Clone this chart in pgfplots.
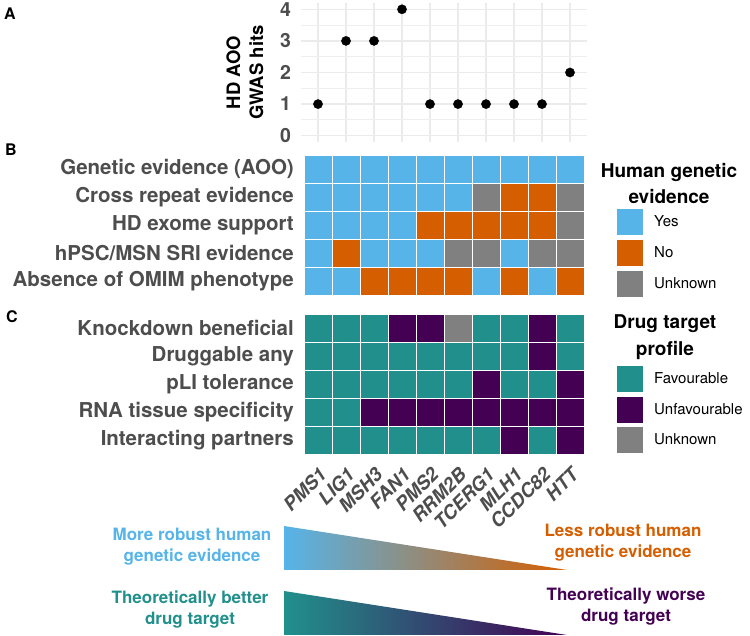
\documentclass[border=0pt]{standalone}
\usepackage{pgfplots}
\pgfplotsset{compat=1.18}
\usepackage{fontspec}
\setmainfont{TeX Gyre Heros}

\definecolor{hgyes}{HTML}{56B4E9}
\definecolor{hgno}{HTML}{D55E00}
\definecolor{unk}{HTML}{808080}
\definecolor{fav}{HTML}{21908C}
\definecolor{unfav}{HTML}{440154}
\definecolor{axtext}{HTML}{4D4D4D}
\definecolor{gridc}{HTML}{EBEBEB}

\newcommand{\fsz}[2]{\fontsize{#1}{#2}\selectfont}

\pgfplotsset{
  tile/.style={only marks, mark=square*, mark size=13bp, mark options={draw=none}},
  heat/.style={
    scale only axis, width=280bp,
    xmin=0.5, xmax=10.5, ymin=0.5, ymax=5.5, y dir=reverse,
    axis line style={draw=none}, tick style={draw=none},
    major tick length=0pt,
    xtick={1,...,10}, ytick={1,...,5},
    yticklabel style={font=\fsz{20.5bp}{24bp}\bfseries, text=axtext, inner sep=0pt},
    yticklabel shift=10bp,
    legend image code/.code={\fill[##1, draw=none] (0bp,-13bp) rectangle (26bp,13bp);},
    legend style={draw=none, fill=none, inner sep=0pt, font=\fsz{15bp}{18bp},
      nodes={inner sep=0pt}, /tikz/every odd column/.style={column sep=11bp}},
    legend cell align=left,
  },
}

\begin{document}
\begin{tikzpicture}
\path[use as bounding box] (0,0) rectangle (750bp,636bp);

% Panel A: GWAS hits
\begin{axis}[
  at={(301.2bp,494bp)}, anchor=south west,
  scale only axis, width=285.6bp, height=139bp,
  xmin=0.4, xmax=10.6, ymin=-0.2, ymax=4.2,
  axis line style={draw=none}, tick style={draw=none},
  major tick length=0pt, minor tick length=0pt,
  xtick={1,...,10}, xticklabels={},
  ytick={0,...,4}, minor ytick={0.5,1.5,2.5,3.5},
  grid=both,
  major grid style={color=gridc, line width=1.5bp},
  minor grid style={color=gridc!80!white, line width=0.8bp},
  yticklabel style={font=\fsz{19.5bp}{22bp}\bfseries, text=axtext, inner sep=0pt},
  yticklabel shift=10bp,
  /pgf/number format/assume math mode=true,
  every axis y label/.style={at={(axis description cs:-0.197,0.5)}, rotate=90,
    anchor=center, align=center, font=\fsz{18.5bp}{23bp}\bfseries},
  ylabel={HD AOO\\GWAS hits},
]
\addplot[only marks, mark=*, mark size=4.6bp, black]
  coordinates {(1,1) (2,3) (3,3) (4,4) (5,1) (6,1) (7,1) (8,1) (9,1) (10,2)};
\end{axis}

% Panel B: human genetic evidence
\begin{axis}[heat,
  at={(304bp,340.5bp)}, anchor=south west, height=140.5bp,
  xticklabels={},
  yticklabels={Genetic evidence (AOO), Cross repeat evidence, HD exome support,
    hPSC/MSN SRI evidence, Absence of OMIM phenotype},
  legend style={at={(1.1179,0.6157)}, anchor=north west, row sep=4.7bp},
]
\addplot[tile, hgyes] coordinates {
  (1,1) (2,1) (3,1) (4,1) (5,1) (6,1) (7,1) (8,1) (9,1) (10,1)
  (1,2) (2,2) (3,2) (4,2) (5,2) (6,2)
  (1,3) (2,3) (3,3) (4,3)
  (1,4) (3,4) (4,4) (5,4) (8,4)
  (1,5) (2,5) (7,5) (9,5)};
\addlegendentry{Yes}
\addplot[tile, hgno] coordinates {
  (8,2) (9,2)
  (5,3) (6,3) (7,3) (8,3) (9,3)
  (2,4)
  (3,5) (4,5) (5,5) (6,5) (8,5) (10,5)};
\addlegendentry{No}
\addplot[tile, unk] coordinates {
  (7,2) (10,2) (10,3) (6,4) (7,4) (9,4) (10,4)};
\addlegendentry{Unknown}
\end{axis}

% Panel C: drug target profile
\begin{axis}[heat,
  at={(304bp,182bp)}, anchor=south west, height=140bp,
  xticklabels={PMS1, LIG1, MSH3, FAN1, PMS2, RRM2B, TCERG1, MLH1, CCDC82, HTT},
  xticklabel style={rotate=45, anchor=north east, inner sep=0pt,
    font=\fsz{19bp}{22bp}\bfseries\itshape, text=axtext},
  xticklabel shift=12bp,
  yticklabels={Knockdown beneficial, Druggable any, pLI tolerance,
    RNA tissue specificity, Interacting partners},
  legend style={at={(1.1179,0.6286)}, anchor=north west, row sep=4.5bp},
]
\addplot[tile, fav] coordinates {
  (1,1) (2,1) (3,1) (7,1) (8,1) (10,1)
  (1,2) (2,2) (3,2) (4,2) (5,2) (6,2) (7,2) (8,2) (10,2)
  (1,3) (2,3) (3,3) (4,3) (5,3) (6,3) (8,3) (9,3)
  (1,4) (2,4)
  (1,5) (2,5) (3,5) (4,5) (5,5) (6,5) (7,5) (9,5)};
\addlegendentry{Favourable}
\addplot[tile, unfav] coordinates {
  (4,1) (5,1) (9,1)
  (9,2)
  (7,3) (10,3)
  (3,4) (4,4) (5,4) (6,4) (7,4) (8,4) (9,4) (10,4)
  (8,5) (10,5)};
\addlegendentry{Unfavourable}
\addplot[tile, unk] coordinates {(6,1)};
\addlegendentry{Unknown}
\end{axis}

% legend titles
\node[align=center, font=\fsz{19bp}{26bp}\bfseries] at (669bp,452bp) {Human genetic\\evidence};
\node[align=center, font=\fsz{19bp}{27bp}\bfseries] at (665bp,298.5bp) {Drug target\\profile};

% panel letters
\node[font=\fsz{16bp}{18bp}\bfseries] at (10bp,622bp) {A};
\node[font=\fsz{16bp}{18bp}\bfseries] at (11bp,486bp) {B};
\node[font=\fsz{16bp}{18bp}\bfseries] at (12bp,319bp) {C};

% gradient scales
\shade[left color=hgyes, right color=hgno] (284bp,66bp) -- (284bp,110bp) -- (567bp,66bp) -- cycle;
\shade[left color=fav, right color=unfav] (284bp,1bp) -- (284bp,45bp) -- (567bp,1bp) -- cycle;
\node[align=center, text=hgyes, font=\fsz{17bp}{21bp}\bfseries] at (192bp,89.5bp) {More robust human\\genetic evidence};
\node[align=center, text=hgno, font=\fsz{17bp}{21bp}\bfseries] at (623bp,93.5bp) {Less robust human\\genetic evidence};
\node[align=center, text=fav, font=\fsz{17bp}{21bp}\bfseries] at (190bp,26bp) {Theoretically better\\drug target};
\node[align=center, text=unfav, font=\fsz{17bp}{21bp}\bfseries] at (626bp,29bp) {Theoretically worse\\drug target};
\end{tikzpicture}
\end{document}
